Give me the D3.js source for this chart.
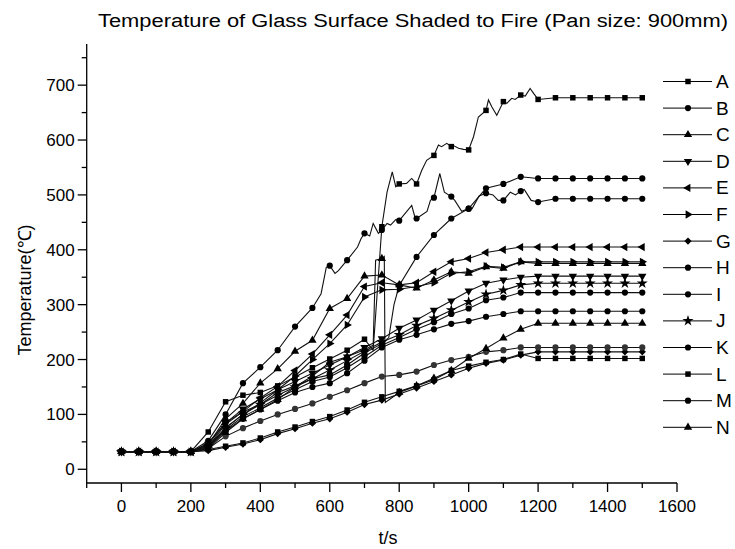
<!DOCTYPE html>
<html><head><meta charset="utf-8">
<script src="https://cdn.jsdelivr.net/npm/d3@7"></script>
<style>
body{margin:0;background:#fff;}
text{font-family:Arial,"Liberation Sans",sans-serif;fill:#000;}
</style>
</head><body>
<svg id="c" width="735" height="549"></svg>
<script>
// ---------------- DATA ----------------
const times = d3.range(0, 1501, 50);               // marker times (s)
const seriesNames = ["A","B","C","D","E","F","G","H","I","J","K","L","M","N"];
const xTicksMajor = [0,200,400,600,800,1000,1200,1400,1600];
const yTicksMajor = [0,100,200,300,400,500,600,700];

const valuesA = [32,32,32,32,32, 68,123,135,140,152,168,185,201,217,237, 442,520,520,572,588,582,654,670,682,674, 677,677,677,677,677,677];
const valuesB = [32,32,32,32,32, 52,100,157,186,217,260,294,371,381,430,436,453,457,495,497,475,503,490,507,487, 493,493,493,493,493,493];
const valuesC = [32,32,32,32,32, 45,92,120,157,183,215,235,293,311,352,354,336,330,345,360,357,369,366,378,375, 375,375,375,375,375,375];
const valuesD = [32,32,32,32,32, 46,84,110,128,145,160,175,190,205,222,238,257,272,290,307,325,339,345,350,352, 352,352,352,352,352,352];
const valuesE = [32,32,32,32,32, 42,82,105,130,151,180,210,245,281,333,340,336,340,360,378,384,395,400,405,405, 405,405,405,405,405,405];
const valuesF = [32,32,32,32,32, 40,76,100,121,145,170,200,229,263,314,327,328,333,340,357,360,370,368,378,378, 378,378,378,378,378,378];
const valuesG = [32,32,32,32,32, 34,40,46,54,65,74,84,92,104,118,126,137,148,160,172,184,193,199,208,214, 214,214,214,214,214,214];
const valuesH = [32,32,32,32,32, 48,85,105,118,140,152,165,172,190,212,229,335,387,427,457,475,512,520,533,530, 530,530,530,530,530,530];
const valuesI = [32,32,32,32,32, 42,72,96,112,130,145,160,168,185,205,226,240,255,268,283,293,308,313,322,322, 322,322,322,322,322,322];
const valuesJ = [32,32,32,32,32, 43,75,100,118,135,150,165,181,198,215,232,245,262,275,290,305,319,326,336,339, 339,339,339,339,339,339];
const valuesK = [32,32,32,32,32, 38,60,75,88,100,110,120,132,144,157,169,172,178,190,199,205,214,217,222,222, 222,222,222,222,222,222];
const valuesL = [32,32,32,32,32, 36,42,48,57,68,77,87,96,108,122,132,142,152,163,180,188,195,200,210,202, 202,202,202,202,202,202];
const valuesM = [32,32,32,32,32, 40,70,92,109,125,140,150,157,175,198,222,236,245,255,265,270,278,283,288,288, 288,288,288,288,288,288];
const valuesN = [32,32,32,32,32, 38,67,92,109,127,150,170,195,205,218,384,140,152,166,180,202,220,239,255,266, 266,266,266,266,266,266];

// extra (unmarked) readings between markers, [time, value]
const detailA = [[725,217],[765,505],[780,542],[790,515],[821,521],[836,530],[865,545],[879,563],[913,591],[922,588],[937,594],[956,590],[971,585],[985,583],[1014,606],[1028,642],[1057,673],[1067,660],[1081,645],[1110,667],[1124,676],[1134,674],[1163,680],[1177,694],[1187,685]];
const detailB = [[575,320],[590,368],[615,357],[625,362],[680,405],[690,420],[715,425],[725,448],[740,430],[765,448],[775,445],[790,455],[836,481],[845,460],[880,470],[890,490],[917,539],[930,505],[960,490],[980,470],[1010,475],[1030,498],[1070,500],[1085,490],[1120,505],[1135,500],[1160,510],[1180,490]];
const detailH = [[770,240],[785,300]];
const detailN = [[725,226],[732,381],[757,388],[760,122]];

const allValues = [valuesA,valuesB,valuesC,valuesD,valuesE,valuesF,valuesG,valuesH,valuesI,valuesJ,valuesK,valuesL,valuesM,valuesN];
const allDetails = {A:detailA, B:detailB, H:detailH, N:detailN};

// ---------------- STYLE ----------------
const shapes = ["square","circle","triUp","triDown","triLeft","triRight","diamond","circle","circle","star","circle","square","circle","triUp"];

// ---------------- DRAW ----------------
const svg = d3.select("#c");
const x = d3.scaleLinear().domain([-100,1600]).range([86.7,677]);
const y = d3.scaleLinear().domain([-25,775]).range([483,44]);

function symPath(shape){
  const m = {
    square:[d3.symbolSquare,30,0], circle:[d3.symbolCircle,30,0],
    triUp:[d3.symbolTriangle,30,0], triDown:[d3.symbolTriangle,30,180],
    triLeft:[d3.symbolTriangle,30,-90], triRight:[d3.symbolTriangle,30,90],
    diamond:[d3.symbolSquare,26,45], star:[d3.symbolStar,38,0]
  }[shape];
  return {d: d3.symbol(m[0], m[1])(), rot: m[2]};
}

// title
svg.append("text").attr("x",98).attr("y",27).attr("font-size",18)
  .attr("textLength",630).attr("lengthAdjust","spacingAndGlyphs")
  .text("Temperature of Glass Surface Shaded to Fire (Pan size: 900mm)");

// axes
const gx = svg.append("g").attr("transform","translate(0,483)");
gx.append("line").attr("x1",86.7).attr("x2",677).attr("stroke","#000").attr("stroke-width",1.3);
d3.range(-100,1601,100).forEach(v=>{
  const major = xTicksMajor.includes(v);
  gx.append("line").attr("x1",x(v)).attr("x2",x(v)).attr("y1",0).attr("y2",major?9:5)
    .attr("stroke","#000").attr("stroke-width",1.3);
});
xTicksMajor.forEach(v=>{
  gx.append("text").attr("x",x(v)).attr("y",29).attr("text-anchor","middle").attr("font-size",17).text(v);
});
svg.append("text").attr("x",388).attr("y",544).attr("text-anchor","middle").attr("font-size",18).text("t/s");

const gy = svg.append("g").attr("transform","translate(86.7,0)");
gy.append("line").attr("y1",44).attr("y2",483).attr("stroke","#000").attr("stroke-width",1.3);
d3.range(0,751,50).forEach(v=>{
  const major = yTicksMajor.includes(v);
  gy.append("line").attr("x1",0).attr("x2",major?-9:-5).attr("y1",y(v)).attr("y2",y(v))
    .attr("stroke","#000").attr("stroke-width",1.3);
});
yTicksMajor.forEach(v=>{
  gy.append("text").attr("x",-12).attr("y",y(v)+6).attr("text-anchor","end").attr("font-size",17).text(v);
});
svg.append("text").attr("transform","translate(31,290) rotate(-90)").attr("text-anchor","middle")
  .attr("font-size",18).text("Temperature(℃)");

// series
const line = d3.line().x(d=>x(d[0])).y(d=>y(d[1]));
const gLines = svg.append("g"), gMarks = svg.append("g");
seriesNames.forEach((name,i)=>{
  const pts = times.map((t,j)=>[t, allValues[i][j]]);
  const all = pts.concat(allDetails[name]||[]).sort((a,b)=>a[0]-b[0]);
  gLines.append("path").attr("d",line(all)).attr("fill","none").attr("stroke","#111").attr("stroke-width",1.1);
  const s = symPath(shapes[i]);
  pts.forEach(p=>{
    gMarks.append("path").attr("d",s.d)
      .attr("transform",`translate(${x(p[0])},${y(p[1])}) rotate(${s.rot})`)
      .attr("fill", name==="K" ? "#333" : "#000");
  });
});

// legend
const lg = svg.append("g");
seriesNames.forEach((name,i)=>{
  const ly = 81.5 + i*26.6;
  lg.append("line").attr("x1",663).attr("x2",712).attr("y1",ly).attr("y2",ly).attr("stroke","#000").attr("stroke-width",1);
  const s = symPath(shapes[i]);
  lg.append("path").attr("d",s.d).attr("transform",`translate(688,${ly}) rotate(${s.rot})`).attr("fill","#000");
  lg.append("text").attr("x",716).attr("y",ly+6.5).attr("font-size",19).text(name);
});
</script>
</body></html>
